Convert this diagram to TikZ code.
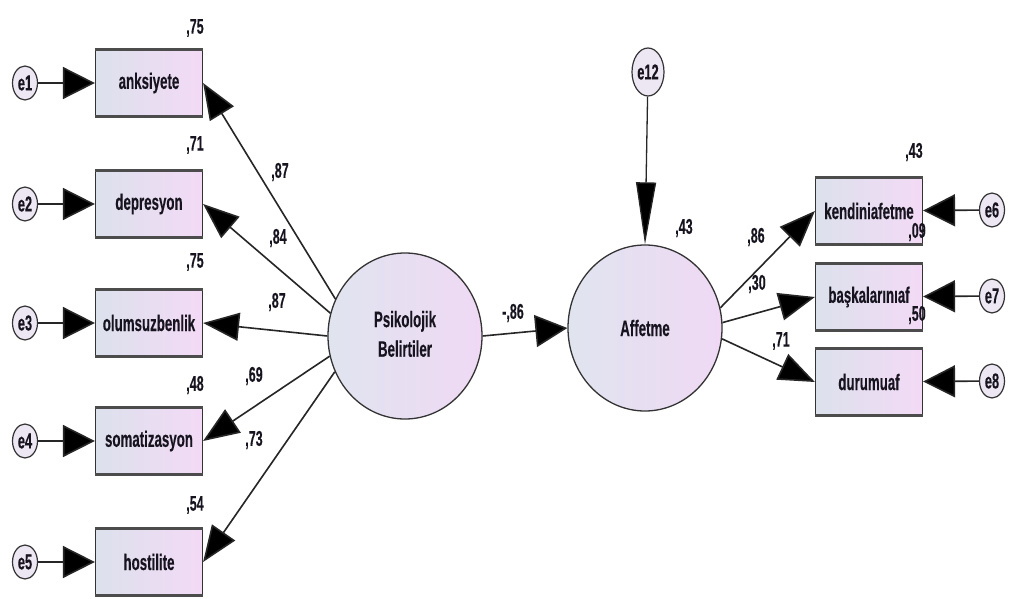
\documentclass[tikz,border=0pt]{standalone}
\usepackage{fontspec}
\setmainfont{Liberation Sans}[FakeBold=0.35]
\usepackage{graphicx}
\usetikzlibrary{arrows.meta,shapes.geometric}
\definecolor{boxL}{HTML}{DCE1EC}
\definecolor{boxR}{HTML}{F3DAF6}
\definecolor{ellL}{HTML}{E0E4EF}
\definecolor{ellR}{HTML}{EFD9F4}
\definecolor{errfill}{HTML}{EDE6F3}
\definecolor{ink}{HTML}{17141F}
\newcommand{\tx}[1]{\scalebox{0.95}[1.6]{\bfseries #1}}
\newcommand{\tl}[1]{\scalebox{1}[1.7]{\bfseries #1}}
\tikzset{
  obs/.style={rectangle, draw=black!80, line width=1.2pt, minimum width=107pt, minimum height=66pt,
    left color=boxL, right color=boxR, inner sep=0pt, text=ink, font=\fontsize{14}{16}\selectfont},
  lat/.style={ellipse, draw=black!80, line width=1.3pt, minimum width=154pt, minimum height=166pt,
    left color=ellL, right color=ellR, inner sep=0pt, text=ink, font=\fontsize{14}{18.5}\selectfont},
  err/.style={ellipse, draw=black!80, line width=1.2pt, minimum width=25pt, minimum height=34pt,
    fill=errfill, inner sep=0pt, text=ink, font=\fontsize{13.5}{15}\selectfont},
  lbl/.style={inner sep=0pt, text=ink, font=\fontsize{12.5}{14}\selectfont},
  conn/.style={draw=black!85, line width=1.6pt},
  harr/.style={conn, -{Triangle[length=32pt,width=32pt,fill=black]}},
  darr/.style={conn, -{Triangle[length=36pt,width=28pt,fill=black]}},
  varr/.style={conn, line width=1.3pt, -{Triangle[length=62pt,width=20pt,fill=black]}},
  edge/.style={draw=black!70, line width=3pt}
}
\begin{document}
\begin{tikzpicture}[x=1pt,y=-1pt]
\fill[white] (0,0) rectangle (1010,599);
\useasboundingbox (0,0) rectangle (1010,599);

% observed left
\node[obs] (anks) at (149,83)  {\tx{anksiyete}};
\node[obs] (depr) at (149,204) {\tx{depresyon}};
\node[obs] (olum) at (149,323) {\tx{olumsuzbenlik}};
\node[obs] (soma) at (149,441) {\tx{somatizasyon}};
\node[obs] (host) at (149,562) {\tx{hostilite}};

% observed right
\node[obs] (kend) at (869,211) {\tx{kendiniafetme}};
\node[obs] (bask) at (869,297) {\tx{başkalarınıaf}};
\node[obs] (duru) at (869,382) {\tx{durumuaf}};

\foreach \b in {anks,depr,olum,soma,host,kend,bask,duru}{
  \draw[edge] (\b.north west) -- (\b.north east);
  \draw[edge] (\b.south west) -- (\b.south east);
}

% latent
\node[lat] (psi) at (405,336) {\tx{\begin{tabular}{@{}c@{}}Psikolojik\\Belirtiler\end{tabular}}};
\node[lat] (aff) at (645,328) {\tx{Affetme}};

% errors
\node[err] (e1) at (25,83)  {\tx{e1}};
\node[err] (e2) at (25,204) {\tx{e2}};
\node[err] (e3) at (25,323) {\tx{e3}};
\node[err] (e4) at (25,441) {\tx{e4}};
\node[err] (e5) at (25,562) {\tx{e5}};
\node[err] (e6) at (992,210) {\tx{e6}};
\node[err] (e7) at (992,296) {\tx{e7}};
\node[err] (e8) at (992,381) {\tx{e8}};
\node[err, minimum width=32pt, minimum height=48pt] (e12) at (648,72) {\tx{e12}};

% error arrows
\draw[harr] (e1) -- (anks);
\draw[harr] (e2) -- (depr);
\draw[harr] (e3) -- (olum);
\draw[harr] (e4) -- (soma);
\draw[harr] (e5) -- (host);
\draw[harr] (e6) -- (kend);
\draw[harr] (e7) -- (bask);
\draw[harr] (e8) -- (duru);
\draw[varr] (e12) -- (aff.north);

% loadings
\draw[darr] (psi.152) -- (anks.east);
\draw[darr] (psi.163) -- (depr.east);
\draw[darr] (psi.180) -- (olum.east);
\draw[darr] (psi.195) -- (soma.east);
\draw[darr] (psi.207) -- (host.east);
\draw[harr] (psi.east) -- (aff.west);
\draw[darr] (aff.15) -- (kend.west);
\draw[darr] (aff.4) -- (bask.west);
\draw[darr] (aff.-8) -- (duru.west);

% labels
\node[lbl] (r1) at (195,28)  {\tl{,75}};
\node[lbl] (r2) at (195,145) {\tl{,71}};
\node[lbl] (r3) at (195,262) {\tl{,75}};
\node[lbl] (r4) at (195,385) {\tl{,48}};
\node[lbl] (r5) at (195,505) {\tl{,54}};
\node[lbl] (p1) at (280,172) {\tl{,87}};
\node[lbl] (p2) at (278,238) {\tl{,84}};
\node[lbl] (p3) at (277,302) {\tl{,87}};
\node[lbl] (p4) at (254,376) {\tl{,69}};
\node[lbl] (p5) at (254,440) {\tl{,73}};
\node[lbl] (pa) at (513,313) {\tl{-,86}};
\node[lbl] (ra) at (684,228) {\tl{,43}};
\node[lbl] (q1) at (756,237) {\tl{,86}};
\node[lbl] (q2) at (757,284) {\tl{,30}};
\node[lbl] (q3) at (781,341) {\tl{,71}};
\node[lbl] (r6) at (914,152) {\tl{,43}};
\node[lbl] (r7) at (917,232) {\tl{,09}};
\node[lbl] (r8) at (917,315) {\tl{,50}};
\end{tikzpicture}
\end{document}
